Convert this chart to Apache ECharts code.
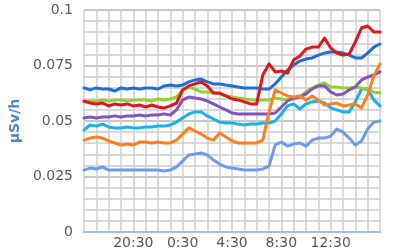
<!DOCTYPE html>
<html>
<head>
<meta charset="utf-8">
<script src="https://cdn.jsdelivr.net/npm/echarts@6/dist/echarts.min.js"></script>
<style>
html,body{margin:0;padding:0;background:#fff;}
#chart{width:400px;height:250px;}
</style>
</head>
<body>
<div id="chart"></div>
<script>
var categories = ['16:30','17:00','17:30','18:00','18:30','19:00','19:30','20:00','20:30','21:00','21:30','22:00','22:30','23:00','23:30','0:00','0:30','1:00','1:30','2:00','2:30','3:00','3:30','4:00','4:30','5:00','5:30','6:00','6:30','7:00','7:30','8:00','8:30','9:00','9:30','10:00','10:30','11:00','11:30','12:00','12:30','13:00','13:30','14:00','14:30','15:00','15:30','16:00','16:30'];
var xTickLabels = ['20:30','0:30','4:30','8:30','12:30'];
var yTickLabels = ['0','0.025','0.05','0.075','0.1'];

var seriesPeriwinkle = [0.0279,0.0288,0.0284,0.0293,0.0279,0.0279,0.0279,0.0279,0.0279,0.0279,0.0279,0.0279,0.0279,0.0275,0.0279,0.0293,0.0320,0.0347,0.0351,0.0356,0.0347,0.0324,0.0306,0.0293,0.0288,0.0284,0.0279,0.0279,0.0279,0.0284,0.0297,0.0392,0.0405,0.0387,0.0396,0.0401,0.0387,0.0414,0.0423,0.0423,0.0432,0.0464,0.0450,0.0423,0.0392,0.0410,0.0464,0.0495,0.0500];
var seriesCyan = [0.0459,0.0482,0.0477,0.0486,0.0473,0.0469,0.0469,0.0473,0.0469,0.0469,0.0473,0.0473,0.0477,0.0477,0.0482,0.0495,0.0514,0.0532,0.0541,0.0541,0.0523,0.0509,0.0495,0.0491,0.0491,0.0486,0.0482,0.0486,0.0486,0.0491,0.0491,0.0500,0.0532,0.0568,0.0577,0.0554,0.0577,0.0586,0.0590,0.0581,0.0559,0.0550,0.0541,0.0541,0.0586,0.0644,0.0644,0.0595,0.0568];
var seriesGreen = [0.0586,0.0590,0.0590,0.0595,0.0590,0.0595,0.0595,0.0590,0.0595,0.0595,0.0595,0.0590,0.0599,0.0595,0.0599,0.0608,0.0640,0.0653,0.0644,0.0631,0.0631,0.0626,0.0622,0.0613,0.0608,0.0604,0.0599,0.0595,0.0595,0.0595,0.0595,0.0604,0.0599,0.0595,0.0599,0.0608,0.0631,0.0649,0.0662,0.0671,0.0653,0.0653,0.0649,0.0649,0.0653,0.0649,0.0640,0.0631,0.0626];
var seriesPurple = [0.0514,0.0518,0.0514,0.0518,0.0518,0.0523,0.0518,0.0523,0.0523,0.0527,0.0523,0.0527,0.0527,0.0532,0.0527,0.0550,0.0595,0.0608,0.0604,0.0599,0.0590,0.0577,0.0563,0.0550,0.0536,0.0532,0.0532,0.0532,0.0532,0.0532,0.0532,0.0536,0.0563,0.0590,0.0604,0.0608,0.0622,0.0644,0.0658,0.0658,0.0631,0.0617,0.0622,0.0640,0.0653,0.0685,0.0698,0.0707,0.0721];
var seriesBlue = [0.0649,0.0640,0.0649,0.0644,0.0644,0.0635,0.0649,0.0644,0.0649,0.0644,0.0649,0.0649,0.0644,0.0658,0.0662,0.0658,0.0662,0.0676,0.0685,0.0689,0.0676,0.0667,0.0667,0.0662,0.0658,0.0653,0.0649,0.0649,0.0649,0.0644,0.0644,0.0667,0.0698,0.0730,0.0752,0.0770,0.0779,0.0784,0.0797,0.0806,0.0811,0.0811,0.0806,0.0797,0.0784,0.0784,0.0806,0.0833,0.0847];
var seriesOrange = [0.0414,0.0423,0.0428,0.0423,0.0410,0.0401,0.0392,0.0396,0.0392,0.0405,0.0405,0.0401,0.0405,0.0401,0.0401,0.0414,0.0441,0.0469,0.0455,0.0441,0.0423,0.0414,0.0446,0.0428,0.0410,0.0401,0.0401,0.0401,0.0401,0.0414,0.0541,0.0640,0.0626,0.0613,0.0608,0.0613,0.0595,0.0613,0.0595,0.0572,0.0577,0.0581,0.0568,0.0572,0.0577,0.0559,0.0617,0.0703,0.0757];
var seriesRed = [0.0590,0.0581,0.0577,0.0581,0.0568,0.0577,0.0572,0.0577,0.0568,0.0572,0.0563,0.0572,0.0563,0.0559,0.0568,0.0581,0.0640,0.0658,0.0667,0.0676,0.0658,0.0626,0.0626,0.0613,0.0599,0.0595,0.0586,0.0577,0.0577,0.0707,0.0757,0.0721,0.0725,0.0716,0.0775,0.0793,0.0824,0.0833,0.0833,0.0874,0.0829,0.0806,0.0797,0.0802,0.0856,0.0919,0.0928,0.0901,0.0901];

function mk(name, data, color) {
  return {
    name: name, type: 'line', data: data, symbol: 'none', smooth: false,
    lineStyle: { color: color, width: 3, cap: 'round', join: 'round' },
    itemStyle: { color: color }, animation: false, z: 5
  };
}

var majorStep = 0.025;
var minorStep = 0.005;

var chart = echarts.init(document.getElementById('chart'), null, { renderer: 'canvas' });
chart.setOption({
  animation: false,
  backgroundColor: '#ffffff',
  grid: { left: 78, right: 20, top: 10, bottom: 18, containLabel: false },
  xAxis: {
    type: 'category', data: categories, boundaryGap: false, z: 1,
    axisLine: { show: true, lineStyle: { color: '#a9c1e8', width: 2 } },
    axisTick: { show: false },
    axisLabel: {
      interval: function (idx, val) { return xTickLabels.indexOf(val) >= 0; },
      color: '#595959', fontSize: 14, fontFamily: 'DejaVu Sans', margin: 4
    },
    splitLine: {
      show: true,
      interval: 1,
      lineStyle: { color: '#cfcfcf', width: 1.5 }
    }
  },
  yAxis: {
    type: 'value', min: 0, max: 0.1, interval: minorStep, z: 1,
    name: 'µSv/h', nameLocation: 'middle', nameGap: 60, nameRotate: 90,
    nameTextStyle: { color: '#4a86c8', fontWeight: 'bold', fontSize: 14, fontFamily: 'DejaVu Sans' },
    axisLine: { show: false }, axisTick: { show: false },
    axisLabel: {
      color: '#595959', fontSize: 14, fontFamily: 'DejaVu Sans', margin: 11, interval: 0,
      formatter: function (v) {
        var k = v / majorStep;
        if (Math.abs(k - Math.round(k)) > 1e-6) return '';
        return yTickLabels[Math.round(k)];
      }
    },
    splitLine: { show: true, lineStyle: { color: ['#b4b4b4', '#cdcdcd', '#cdcdcd', '#cdcdcd', '#cdcdcd'], width: 1.5 } }
  },
  series: [
    mk('periwinkle', seriesPeriwinkle, '#6e9bec'),
    mk('cyan', seriesCyan, '#1ab2e6'),
    mk('green', seriesGreen, '#8fd130'),
    mk('purple', seriesPurple, '#7f55be'),
    mk('blue', seriesBlue, '#1f6ed8'),
    mk('orange', seriesOrange, '#ff7f1e'),
    mk('red', seriesRed, '#e0161a')
  ]
});
</script>
</body>
</html>
